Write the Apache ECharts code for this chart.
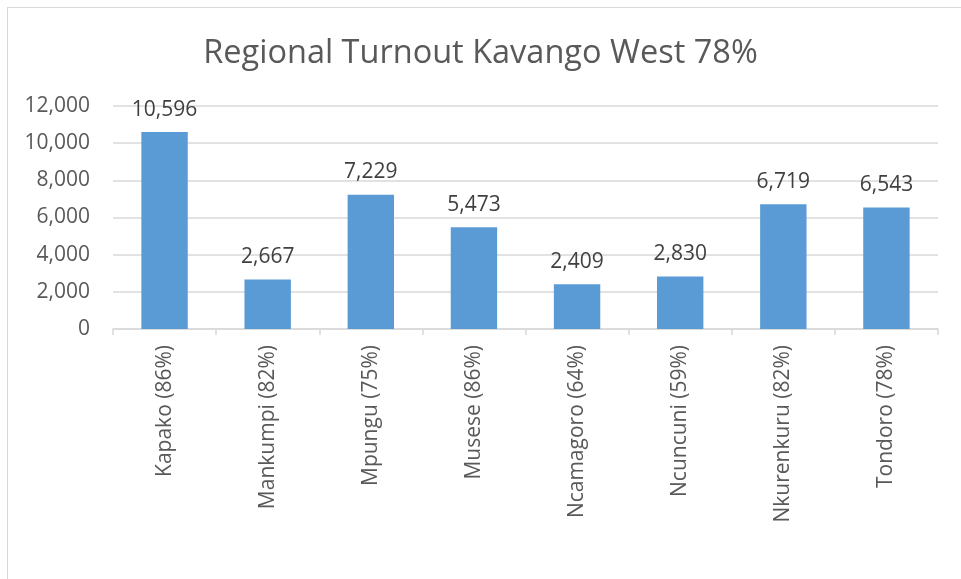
<!DOCTYPE html>
<html>
<head>
<meta charset="utf-8">
<script src="https://cdn.jsdelivr.net/npm/echarts@6/dist/echarts.min.js"></script>
<style>
	html, body { margin: 0; padding: 0; background: #fff; }
	#chart { width: 961px; height: 579px; }
	#frame { position: absolute; left: 7px; top: 7px; width: 970px; height: 590px; border-left: 1px solid #d9d9d9; border-top: 1px solid #d9d9d9; pointer-events: none; }
</style>
</head>
<body>
<div id="chart"></div>
<div id="frame"></div>
<script>
var regions = ['Kapako (86%)', 'Mankumpi (82%)', 'Mpungu (75%)', 'Musese (86%)', 'Ncamagoro (64%)', 'Ncuncuni (59%)', 'Nkurenkuru (82%)', 'Tondoro (78%)'];
var votes = [10596, 2667, 7229, 5473, 2409, 2830, 6719, 6543];
var titleText = 'Regional Turnout Kavango West 78%';

var chart = echarts.init(document.getElementById('chart'));

function fmt(v) {
	return v.toLocaleString('en-US');
}

var option = {
	animation: false,
	textStyle: {
		fontFamily: 'Open Sans'
	},
	title: {
		text: titleText,
		left: 'center',
		top: 32,
		textStyle: {
			color: '#595959',
			fontSize: 32.5,
			fontWeight: 'normal',
			fontFamily: 'Open Sans'
		}
	},
	grid: {
		left: 113,
		right: 23,
		top: 106,
		bottom: 250
	},
	xAxis: {
		type: 'category',
		data: regions,
		axisLine: {
			lineStyle: { color: '#d9d9d9', width: 1.5 }
		},
		axisTick: {
			show: true,
			length: 6,
			lineStyle: { color: '#d9d9d9', width: 1.5 }
		},
		axisLabel: {
			rotate: 90,
			margin: 16,
			color: '#595959',
			fontSize: 21,
			fontFamily: 'Open Sans'
		}
	},
	yAxis: {
		type: 'value',
		min: 0,
		max: 12000,
		interval: 2000,
		axisLine: { show: false },
		axisTick: { show: false },
		splitLine: {
			lineStyle: { color: '#d9d9d9', width: 1.5 }
		},
		axisLabel: {
			margin: 23,
			color: '#595959',
			fontSize: 21,
			fontFamily: 'Open Sans',
			formatter: function(v) {
				return fmt(v);
			}
		}
	},
	series: [{
		type: 'bar',
		data: votes,
		barWidth: '45%',
		itemStyle: {
			color: '#5b9bd5'
		},
		label: {
			show: true,
			position: 'top',
			distance: 12,
			color: '#404040',
			fontSize: 21,
			fontFamily: 'Open Sans',
			formatter: function(p) {
				return fmt(p.value);
			}
		}
	}]
};

chart.setOption(option);
</script>
</body>
</html>
